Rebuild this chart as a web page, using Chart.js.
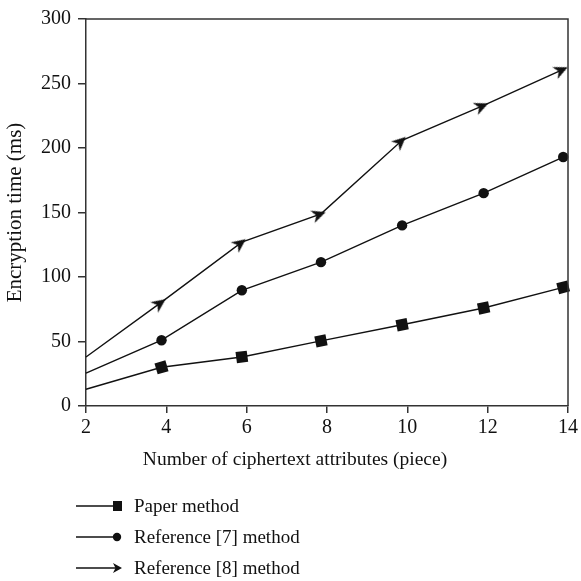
<!DOCTYPE html>
<html>
<head>
<meta charset="utf-8">
<script src="https://cdn.jsdelivr.net/npm/chart.js@4/dist/chart.umd.min.js"></script>
<style>
  html, body { margin: 0; padding: 0; background: #fff; }
  #wrap { position: relative; width: 581px; height: 581px; }
  #legend { position: absolute; left: 76px; top: 490px; font-family: "Liberation Serif", "DejaVu Serif", serif; font-size: 19px; color: #111; }
  .row { height: 31px; display: flex; align-items: center; }
  .row svg { margin-right: 12px; }
  #xtitle { position: absolute; left: 0; width: 590px; top: 448px; text-align: center; font-family: "Liberation Serif", "DejaVu Serif", serif; font-size: 19.5px; color: #111; white-space: nowrap; }
</style>
</head>
<body>
<div id="wrap">
  <canvas id="c" width="581" height="581"></canvas>
  <div id="xtitle"></div>
  <div id="legend"></div>
</div>
<script>
// ---- data ----
const xValues = [2, 3.88, 5.88, 7.85, 9.87, 11.9, 13.88];
const paperMethod = [13, 30, 38, 50.5, 63, 76, 92];
const ref7Method = [25.5, 51, 89.7, 111.5, 140, 165, 193];
const ref8Method = [38, 80.5, 127, 149, 206, 233, 261];
const seriesLabels = ['Paper method', 'Reference [7] method', 'Reference [8] method'];
const xTickLabels = [2, 4, 6, 8, 10, 12, 14];
const yTickLabels = [0, 50, 100, 150, 200, 250, 300];
const xTitle = 'Number of ciphertext attributes (piece)';
const yTitle = 'Encryption time (ms)';

const FONT = '"Liberation Serif", "DejaVu Serif", serif';
const INK = '#111';

function arrowCanvas() {
  const c = document.createElement('canvas');
  c.width = 24; c.height = 16;
  const g = c.getContext('2d');
  g.fillStyle = INK;
  g.beginPath();
  g.moveTo(17, 8);
  g.lineTo(3, 1.5);
  g.lineTo(7, 8);
  g.lineTo(3, 14.5);
  g.closePath();
  g.fill();
  return c;
}
const arrow = arrowCanvas();

function pts(arr) { return arr.map((v, i) => ({ x: xValues[i], y: v })); }

function segAngle(ctx) {
  const ch = ctx.chart, i = ctx.dataIndex;
  const data = ch.data.datasets[ctx.datasetIndex].data;
  if (!ch.scales || !ch.scales.x || i < 1) return 0;
  const sx = ch.scales.x, sy = ch.scales.y;
  const j = i - 1;
  const dx = sx.getPixelForValue(data[i].x) - sx.getPixelForValue(data[j].x);
  const dy = sy.getPixelForValue(data[i].y) - sy.getPixelForValue(data[j].y);
  return Math.atan2(dy, dx) * 180 / Math.PI;
}

const radiusFn = (r) => (ctx) => ctx.dataIndex === 0 ? 0 : r;

const datasets = [
  { label: seriesLabels[0], data: pts(paperMethod), pointStyle: 'rect', pointRadius: radiusFn(8) },
  { label: seriesLabels[1], data: pts(ref7Method), pointStyle: 'circle', pointRadius: radiusFn(5.2) },
  { label: seriesLabels[2], data: pts(ref8Method), pointStyle: arrow, pointRadius: radiusFn(8) }
].map(d => Object.assign(d, {
  borderColor: INK, backgroundColor: INK, borderWidth: 1.4,
  pointBackgroundColor: INK, pointBorderColor: INK, pointBorderWidth: 0,
  pointRotation: segAngle, tension: 0, clip: false
}));

const framePlugin = {
  id: 'frame',
  afterDatasetsDraw(chart) {
    const a = chart.chartArea, g = chart.ctx;
    g.save();
    g.strokeStyle = '#333'; g.lineWidth = 1.5;
    g.beginPath();
    g.moveTo(a.left, a.top); g.lineTo(a.right, a.top); g.lineTo(a.right, a.bottom);
    g.stroke();
    g.restore();
  }
};

const chart = new Chart(document.getElementById('c'), {
  type: 'line',
  data: { datasets },
  options: {
    responsive: false,
    animation: false,
    devicePixelRatio: 1,
    layout: { padding: { left: 0, right: 9, top: 15, bottom: 107 } },
    plugins: { legend: { display: false }, tooltip: { enabled: false } },
    scales: {
      x: {
        type: 'linear', min: 2, max: 14,
        afterFit: (s) => { s.height = 68; },
        afterBuildTicks: (s) => { s.ticks = xTickLabels.map(v => ({ value: v })); },
        grid: { display: true, drawOnChartArea: false, drawTicks: true, tickLength: 7, color: '#333', lineWidth: 1.5 },
        border: { display: true, color: '#333', width: 1.5 },
        ticks: { color: INK, font: { family: FONT, size: 20 }, padding: 3, maxRotation: 0 },
        title: { display: false, text: xTitle }
      },
      y: {
        type: 'linear', min: 0, max: 300,
        afterFit: (s) => { s.width = 86; },
        afterBuildTicks: (s) => { s.ticks = yTickLabels.map(v => ({ value: v })); },
        grid: { display: true, drawOnChartArea: false, drawTicks: true, tickLength: 8, color: '#333', lineWidth: 1.5 },
        border: { display: true, color: '#333', width: 1.5 },
        ticks: { color: INK, font: { family: FONT, size: 20 }, padding: 7 },
        title: { display: true, text: yTitle, color: INK, font: { family: FONT, size: 21 }, padding: { top: 3, bottom: 4 } }
      }
    }
  },
  plugins: [framePlugin]
});

document.getElementById('xtitle').textContent = chart.options.scales.x.title.text;

// HTML legend built from the chart's datasets
const legend = document.getElementById('legend');
const symbols = [
  '<rect x="37" y="5" width="9" height="10" fill="#111"/>',
  '<circle cx="41" cy="10" r="4.2" fill="#111"/>',
  '<path d="M46 10 L37 5 L39.5 10 L37 15 Z" fill="#111"/>'
];
chart.data.datasets.forEach((d, i) => {
  const row = document.createElement('div');
  row.className = 'row';
  row.innerHTML = '<svg width="46" height="20"><line x1="0" y1="10" x2="42" y2="10" stroke="#111" stroke-width="1.4"/>' + symbols[i] + '</svg>';
  const span = document.createElement('span');
  span.textContent = d.label;
  row.appendChild(span);
  legend.appendChild(row);
});
</script>
</body>
</html>
